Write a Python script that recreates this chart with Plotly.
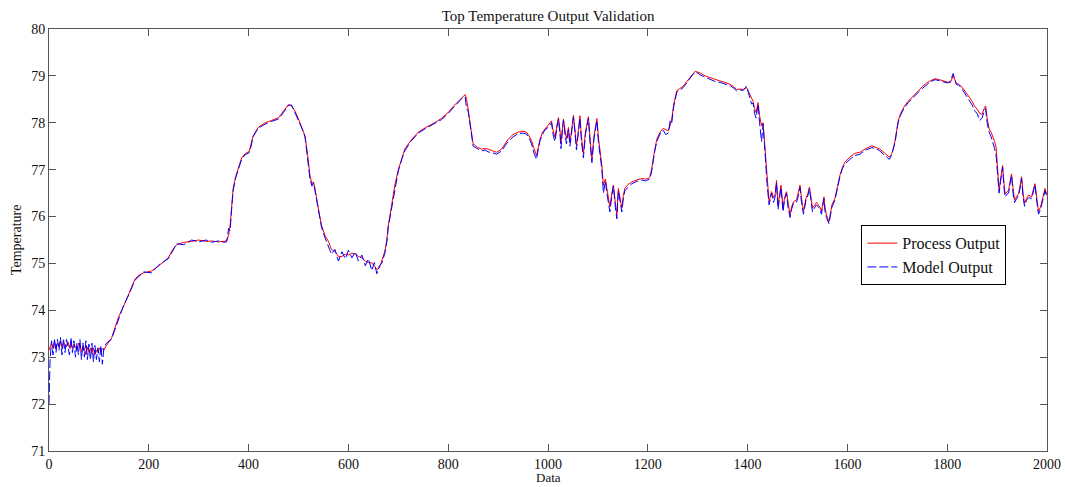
import plotly.graph_objects as go

# ---- data (x = sample index) ----
x_a = [0,2,5,8,11,14,17,20,23,26,29,32,35,38,41,44,47,50,53,56,59,62,65,68,71,74,77,80,83,86,89,92,95,98,101,104,107,110]
p_a = [73.15,73.2,73.3,73.18,73.32,73.22,73.3,73.25,73.35,73.2,73.3,73.28,73.22,73.33,73.2,73.3,73.18,73.28,73.22,73.15,
       73.3,73.2,73.12,73.25,73.18,73.05,73.22,73.1,73.2,73.08,73.2,73.05,73.15,73.1,73.2,73.12,73.18,73.15]
m_a = [72.0,72.9,73.35,73.05,73.4,73.1,73.38,73.15,73.42,73.05,73.4,73.1,73.38,73.2,73.05,73.42,73.1,73.35,73.0,73.3,
       73.05,73.38,72.95,73.3,73.0,73.35,72.95,73.28,72.95,73.3,72.9,73.25,72.95,73.2,72.9,73.25,72.85,73.2]

x_b1 = [115,125,139,150,160,172,180,190,206,220,239,248,256,270,286,300,315,326,339,350,356]
p_b1 = [73.25,73.4,73.85,74.1,74.35,74.66,74.75,74.8,74.84,74.95,75.12,75.3,75.4,75.45,75.47,75.5,75.47,75.48,75.46,75.47,75.48]
m_b1 = [73.3,73.38,73.82,74.12,74.33,74.64,74.72,74.82,74.8,74.97,75.1,75.28,75.42,75.4,75.5,75.46,75.5,75.45,75.48,75.45,75.46]

x_b2 = [360,363,366,369,374,379,386,393,401,405,409,419,433,446,460,470,480,486,493,500]
p_b2 = [75.6,75.82,76.2,76.6,76.85,77.02,77.25,77.34,77.39,77.55,77.72,77.9,78.0,78.05,78.11,78.25,78.39,78.36,78.25,78.08]
m_b2 = [75.75,75.7,76.15,76.55,76.82,77.0,77.22,77.32,77.36,77.5,77.7,77.88,77.97,78.03,78.08,78.22,78.37,78.38,78.22,78.05]

x_b3 = [507,513,518,523,527,530,533,536,541,546,553,560,566,573,580,587,594,600,607,614,620,627,634,640,647,652,657,662,667]
p_b3 = [77.9,77.72,77.35,76.88,76.7,76.74,76.6,76.39,76.1,75.82,75.6,75.47,75.3,75.26,75.15,75.15,75.2,75.18,75.22,75.2,
        75.15,75.12,75.05,75.02,75.01,74.95,74.87,74.9,75.05]
m_b3 = [77.88,77.7,77.3,76.8,76.65,76.72,76.55,76.35,76.05,75.78,75.55,75.35,75.2,75.3,75.05,75.25,75.1,75.28,75.12,75.25,
        75.05,75.18,74.95,75.1,74.85,75.02,74.78,74.95,75.0]

x_b4 = [673,677,680,686,693,700,707,713,725,740,755,773,787,800,810,820,830,834,837,840]
p_b4 = [75.26,75.5,75.82,76.2,76.67,77.0,77.25,77.44,77.62,77.8,77.9,78.0,78.1,78.22,78.35,78.46,78.57,78.6,78.5,78.3]
m_b4 = [75.22,75.45,75.78,76.15,76.62,76.97,77.22,77.4,77.6,77.78,77.88,77.98,78.07,78.2,78.32,78.44,78.55,78.55,78.3,78.25]

x_b5 = [844,850,858,867,874,880,889,897,907,914,920,930,940,950,957,962,967,972,977,980,984,989,994,1000,1004]
p_b5 = [77.94,77.55,77.48,77.44,77.45,77.44,77.4,77.37,77.44,77.55,77.65,77.75,77.8,77.82,77.8,77.72,77.62,77.45,77.3,77.45,
        77.65,77.8,77.87,77.95,78.0]
m_b5 = [77.9,77.5,77.45,77.4,77.42,77.38,77.36,77.33,77.4,77.5,77.6,77.7,77.77,77.78,77.76,77.68,77.55,77.35,77.22,77.4,
        77.62,77.75,77.85,77.9,77.95]

x_b6 = [1007,1011,1014,1018,1021,1024,1026,1029,1031,1034,1037,1041,1044,1048,1051,1054,1057,1061,1064,1067,
        1071,1075,1081,1084,1088,1092,1098,1101,1105,1108]
p_b6 = [78.04,77.8,77.69,77.95,78.11,77.85,77.55,77.9,78.08,77.85,77.65,77.9,77.58,77.9,78.16,77.85,77.51,77.85,78.15,77.7,
        77.34,77.8,78.13,77.7,77.23,77.7,78.09,77.69,77.4,77.09]
m_b6 = [78.0,77.7,77.6,77.9,78.08,77.75,77.45,77.85,78.05,77.75,77.55,77.85,77.5,77.85,78.12,77.8,77.42,77.8,78.1,77.6,
        77.25,77.75,78.1,77.6,77.15,77.65,78.05,77.6,77.3,77.0]

x_b7 = [1111,1115,1118,1121,1124,1128,1131,1135,1138,1141,1145,1148,1151,1154,1160,1168,1178,1188,1195,1201]
p_b7 = [76.67,76.8,76.6,76.4,76.21,76.5,76.67,76.3,76.03,76.6,76.35,76.18,76.45,76.6,76.68,76.74,76.78,76.81,76.8,76.81]
m_b7 = [76.5,76.75,76.5,76.3,76.1,76.45,76.65,76.2,75.95,76.55,76.25,76.1,76.4,76.55,76.62,76.7,76.75,76.78,76.76,76.78]

x_b8 = [1204,1208,1211,1214,1218,1221,1226,1231,1236,1241,1245,1248,1252,1258,1264,1271,1276,1281,1288,1295,
        1300,1305,1315,1325,1335,1345,1355,1365,1372,1378,1385,1391,1398]
p_b8 = [76.85,77.02,77.25,77.44,77.65,77.72,77.82,77.88,77.85,77.83,77.95,78.08,78.4,78.68,78.73,78.78,78.85,78.92,79.02,79.1,
        79.08,79.06,79.0,78.96,78.92,78.89,78.86,78.82,78.77,78.71,78.72,78.71,78.75]
m_b8 = [76.8,76.98,77.2,77.4,77.6,77.68,77.8,77.84,77.75,77.78,78.05,78.0,78.35,78.65,78.7,78.75,78.82,78.9,79.0,79.08,
        79.06,79.02,78.97,78.93,78.88,78.86,78.83,78.79,78.74,78.68,78.7,78.69,78.78]

x_b9 = [1402,1405,1408,1411,1414,1417,1421,1424,1428,1431,1434,1437,1439,1443,1448,1452,1455,1458,1461,1464,
        1467,1471,1474,1478,1481,1485,1488,1492,1498,1502,1505,1508,1512,1517,1521,1524,1527,1530,1535,1538,
        1542,1545,1548,1553,1555,1558,1563,1566,1569,1575]
p_b9 = [78.65,78.57,78.5,78.46,78.3,78.22,78.43,78.15,77.94,78.0,77.58,77.1,76.81,76.32,76.53,76.4,76.46,76.77,76.25,76.45,
        76.67,76.18,76.4,76.53,76.3,76.03,76.2,76.32,76.35,76.5,76.67,76.4,76.11,76.39,76.5,76.63,76.4,76.18,76.25,76.3,
        76.25,76.2,76.11,76.42,76.2,76.03,75.89,76.05,76.25,76.39]
m_b9 = [78.6,78.5,78.4,78.42,78.2,78.1,78.4,78.0,77.6,77.98,77.4,76.9,76.7,76.25,76.5,76.3,76.42,76.72,76.15,76.4,
        76.62,76.1,76.35,76.5,76.2,75.98,76.15,76.28,76.3,76.45,76.62,76.3,76.05,76.35,76.45,76.6,76.3,76.1,76.2,76.25,
        76.2,76.15,76.05,76.38,76.12,75.98,75.85,76.0,76.2,76.35]

x_b10 = [1580,1585,1590,1595,1605,1615,1625,1637,1649,1657,1665,1675,1684,1688,1692,1696,1699,1702,1706,1714,
         1722,1732,1742,1750,1759,1767,1776,1784,1792,1800,1806,1812,1818,1823,1828,1834,1840,1845,1850,1855,
         1860,1865,1870,1874,1877]
p_b10 = [76.65,76.88,77.05,77.16,77.27,77.35,77.37,77.45,77.51,77.48,77.44,77.35,77.27,77.32,77.44,77.65,77.87,78.05,78.18,78.35,
         78.46,78.58,78.68,78.77,78.85,78.9,78.94,78.92,78.89,78.87,78.85,79.0,78.85,78.82,78.78,78.7,78.61,78.52,78.46,78.35,
         78.29,78.2,78.18,78.3,78.36]
m_b10 = [76.6,76.85,77.02,77.12,77.22,77.3,77.33,77.42,77.47,77.45,77.4,77.3,77.22,77.3,77.45,77.6,77.85,78.02,78.15,78.32,
         78.43,78.55,78.65,78.73,78.82,78.88,78.92,78.9,78.87,78.85,78.88,79.05,78.82,78.8,78.75,78.65,78.55,78.45,78.38,78.25,
         78.2,78.05,78.1,78.25,78.3]

x_b11 = [1880,1884,1888,1891,1895,1898,1901,1904,1907,1911,1914,1916,1920,1923,1926,1929,1932,1935,1939,1943,
         1946,1949,1952,1955,1959,1963,1966,1969,1972,1976,1980,1983,1987,1990,1993,1996,2000]
p_b11 = [78.1,77.87,77.8,77.72,77.6,77.48,77.09,76.56,76.8,77.09,76.7,76.49,76.52,76.56,76.75,76.91,76.6,76.35,76.42,76.49,
         76.65,76.85,76.5,76.28,76.38,76.46,76.44,76.42,76.55,76.7,76.35,76.11,76.2,76.32,76.45,76.6,76.45]
m_b11 = [78.0,77.8,77.7,77.6,77.45,77.3,76.95,76.5,76.75,77.05,76.6,76.42,76.48,76.5,76.7,76.88,76.5,76.3,76.38,76.45,
         76.6,76.82,76.42,76.22,76.35,76.4,76.4,76.38,76.5,76.68,76.28,76.05,76.15,76.28,76.4,76.55,76.4]

data_x = x_a + x_b1 + x_b2 + x_b3 + x_b4 + x_b5 + x_b6 + x_b7 + x_b8 + x_b9 + x_b10 + x_b11
process_out = p_a + p_b1 + p_b2 + p_b3 + p_b4 + p_b5 + p_b6 + p_b7 + p_b8 + p_b9 + p_b10 + p_b11
model_out = m_a + m_b1 + m_b2 + m_b3 + m_b4 + m_b5 + m_b6 + m_b7 + m_b8 + m_b9 + m_b10 + m_b11
assert len(data_x) == len(process_out) == len(model_out), (len(data_x), len(process_out), len(model_out))

x_ticks = list(range(0, 2001, 200))
y_ticks = list(range(71, 81))

SERIF = "Liberation Serif, Times New Roman, serif"
TXT = "#111111"

fig = go.Figure()
fig.add_trace(go.Scatter(x=data_x, y=process_out, mode="lines", name="Process Output",
                         line=dict(color="#ff0000", width=1)))
fig.add_trace(go.Scatter(x=data_x, y=model_out, mode="lines", name="Model Output",
                         line=dict(color="#0000ff", width=1, dash="9px,3px")))

axis_common = dict(showgrid=False, zeroline=False, showline=True, mirror="ticks",
                   linecolor="#555555", linewidth=1, ticks="inside", ticklen=7,
                   tickcolor="#555555", automargin=False,
                   tickfont=dict(family=SERIF, size=14, color=TXT))

fig.update_layout(
    width=1065, height=487,
    margin=dict(l=49, r=18, t=29, b=36),
    paper_bgcolor="white", plot_bgcolor="white",
    title=dict(text="Top Temperature Output Validation", x=0.5146, xanchor="center",
               y=0.967, yanchor="middle", font=dict(family=SERIF, size=15, color=TXT)),
    xaxis=dict(range=[0, 2000], tickvals=x_ticks, ticktext=[str(v) for v in x_ticks], **axis_common),
    yaxis=dict(range=[71, 80], tickvals=y_ticks, ticktext=[str(v) for v in y_ticks], **axis_common),
    legend=dict(x=0.814, y=0.535, xanchor="left", yanchor="top",
                bgcolor="white", bordercolor="#000000", borderwidth=1,
                font=dict(family=SERIF, size=16, color=TXT),
                tracegroupgap=0, itemwidth=30),
    showlegend=True,
    annotations=[
        dict(text="Data", xref="paper", yref="paper", x=0.5, y=-0.0825, xanchor="center",
             yanchor="bottom", showarrow=False, borderpad=0,
             font=dict(family=SERIF, size=13, color=TXT)),
        dict(text="Temperature", xref="paper", yref="paper", x=-0.033, y=0.5, xanchor="center",
             yanchor="middle", textangle=-90, showarrow=False, font=dict(family=SERIF, size=14, color=TXT)),
    ],
)

fig.write_html("out.html")
